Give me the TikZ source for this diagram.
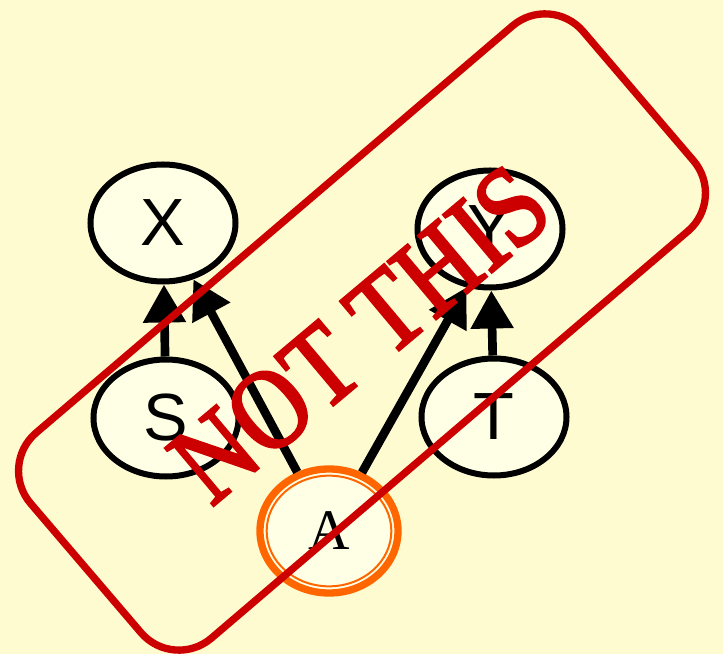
\documentclass[tikz,border=0pt]{standalone}
\usepackage{fontspec}
\newfontfamily\labelfont{Liberation Sans}
\newfontfamily\stampfont{Liberation Serif}
\newfontfamily\stampboldfont[FakeBold=2.5]{Liberation Serif}
\definecolor{BgCream}{HTML}{FFFBD0}
\definecolor{NodeFill}{HTML}{FFFFE6}
\definecolor{StampRed}{HTML}{CC0000}
\definecolor{QueryOrange}{HTML}{FF6600}
\usetikzlibrary{arrows.meta, shapes.geometric}

\begin{document}
\begin{tikzpicture}[x=0.03cm, y=-0.03cm, >={Triangle[length=1.14cm, width=1.23cm]},
  var/.style={ellipse, draw, line width=0.18cm, fill=NodeFill, minimum width=4.35cm,
    minimum height=3.51cm, inner sep=0pt, font=\labelfont\fontsize{57}{57}\selectfont},
  dep/.style={->, line width=0.26cm}]
  \fill[BgCream] (0,0) rectangle (723,654);
  \useasboundingbox (0,0) rectangle (723,654);
  % network
  \node[var] (X) at (163,223) {X};
  \node[var] (S) at (166,418) {S};
  \node[var] (Y) at (490,229) {Y};
  \node[var] (T) at (494,417) {T};
  \node[var, draw=QueryOrange, line width=0.22cm, minimum width=4.14cm, minimum height=3.72cm,
    font=\stampfont\fontsize{49}{49}\selectfont] (A) at (329,531) {A};
  \draw[QueryOrange, line width=0.06cm] (A.center) ellipse [x radius=1.87cm, y radius=1.66cm];
  \draw[dep] (S) -- (X);
  \draw[dep] (A) -- (X);
  \draw[dep] (A) -- (Y.-112);
  \draw[dep] (T) -- (Y);
  % stamp
  \node[draw=StampRed, line width=0.22cm, rotate=40.5, minimum width=21.8cm,
    minimum height=8.1cm, rounded corners=1.5cm] (stamp) at (362,332) {};
  \node[text=StampRed, rotate=40, yscale=1.15, inner sep=0pt,
    font=\stampboldfont\fontsize{85}{85}\selectfont] (stamptext) at (360,334) {NOT THIS};
\end{tikzpicture}
\end{document}
